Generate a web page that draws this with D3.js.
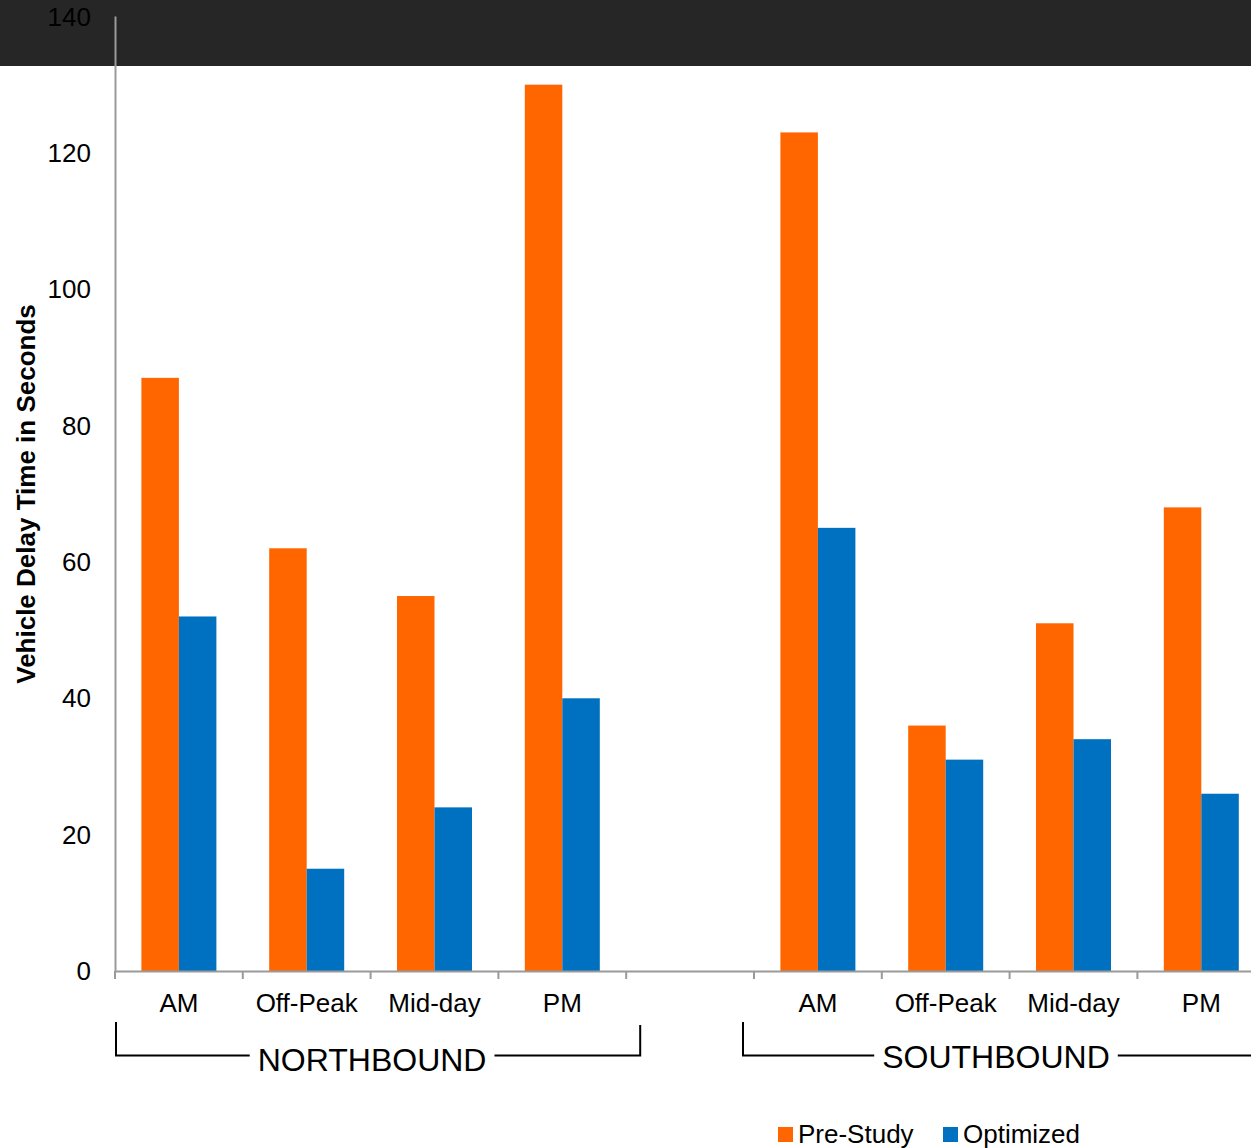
<!DOCTYPE html>
<html><head><meta charset="utf-8">
<script src="https://cdn.jsdelivr.net/npm/d3@7/dist/d3.min.js"></script>
<style>
html,body{margin:0;padding:0;background:#fff;}
svg{display:block;font-family:"Liberation Sans",Arial,sans-serif;}
</style></head>
<body>
<svg id="chart" width="1251" height="1148"></svg>
<script>
const categories = ["AM","Off-Peak","Mid-day","PM"];
const directions = ["NORTHBOUND","SOUTHBOUND"];
const seriesNames = ["Pre-Study","Optimized"];
const preStudy = [87,62,55,130, 123,36,51,68];
const optimized = [52,15,24,40, 65,31,34,26];
const yTicks = [0,20,40,60,80,100,120,140];
const colors = ["#FF6600","#0070C0"];

const svg = d3.select("#chart");
const W = 1251, H = 1148;

svg.append("rect").attr("x",0).attr("y",0).attr("width",W).attr("height",66).attr("fill","#262626");

// slots: NB 0-3, gap 4, SB 5-8, extra 9
const slotIds = d3.range(10);
const x = d3.scaleBand().domain(slotIds).range([115, 115 + 10*127.8]).padding(0);
const inner = d3.scaleBand().domain(seriesNames).range([0, x.bandwidth()]).paddingInner(0).paddingOuter(0.704);
const y = d3.scaleLinear().domain([0,140]).range([971, 16.5]);

const rows = [];
directions.forEach((dir, di) => {
  categories.forEach((cat, ci) => {
    const idx = di*4 + ci;
    rows.push({slot: di*5 + ci, cat, dir, values:[preStudy[idx], optimized[idx]]});
  });
});

// bars
const g = svg.append("g");
rows.forEach(r => {
  seriesNames.forEach((s, si) => {
    g.append("rect")
      .attr("x", x(r.slot) + inner(s))
      .attr("width", inner.bandwidth())
      .attr("y", y(r.values[si]))
      .attr("height", y(0) - y(r.values[si]))
      .attr("fill", colors[si]);
  });
});

const axisColor = "#9a9a9a";
// y axis
svg.append("line").attr("x1",115.5).attr("x2",115.5).attr("y1",y(140)).attr("y2",y(0)).attr("stroke",axisColor).attr("stroke-width",2);
svg.selectAll(".ytl").data(yTicks).enter().append("text")
  .attr("x",91).attr("y",d=>y(d)).attr("dy","0.35em")
  .attr("text-anchor","end").attr("font-size",26).attr("fill","#000").text(d=>d);

// x axis
svg.append("line").attr("x1",115).attr("x2",W).attr("y1",971.5).attr("y2",971.5).attr("stroke",axisColor).attr("stroke-width",2);
slotIds.forEach(s => {
  svg.append("line").attr("x1",x(s)).attr("x2",x(s)).attr("y1",971).attr("y2",979).attr("stroke",axisColor).attr("stroke-width",2);
});
svg.selectAll(".xtl").data(rows).enter().append("text")
  .attr("x", d => x(d.slot) + x.bandwidth()/2)
  .attr("y", 1012).attr("text-anchor","middle").attr("font-size",26).attr("fill","#000")
  .text(d => d.cat);

// group brackets
const brackets = [
  {name: directions[0], left: x(0)+1, right: x(4)+14, top: 1022, yLine: 1055.5, rightTop: 1025, ty: 1071},
  {name: directions[1], left: x(5)-11, right: W+20, top: 1022, yLine: 1055.5, rightTop: null, ty: 1068}
];
brackets.forEach(b => {
  const cx = (b.name === directions[0]) ? (b.left + b.right)/2 - 6 : 996;
  const t = svg.append("text").attr("x",cx).attr("y",b.ty).attr("text-anchor","middle")
    .attr("font-size",32).attr("fill","#000").text(b.name);
  const bb = t.node().getBBox();
  const p = [[b.left, b.top],[b.left, b.yLine],[bb.x - 8, b.yLine]];
  svg.append("path").attr("d", d3.line()(p)).attr("fill","none").attr("stroke","#000").attr("stroke-width",2);
  const p2 = [[bb.x + bb.width + 8, b.yLine],[b.right, b.yLine]];
  if (b.rightTop !== null) p2.push([b.right, b.rightTop]);
  svg.append("path").attr("d", d3.line()(p2)).attr("fill","none").attr("stroke","#000").attr("stroke-width",2);
});

// y title
svg.append("text").attr("transform","translate(35,494) rotate(-90)")
  .attr("text-anchor","middle").attr("font-size",26).attr("font-weight","bold").attr("fill","#000")
  .text("Vehicle Delay Time in Seconds");

// legend
const legendX = [778, 943];
seriesNames.forEach((s, i) => {
  svg.append("rect").attr("x",legendX[i]).attr("y",1127).attr("width",15).attr("height",15).attr("fill",colors[i]);
  svg.append("text").attr("x",legendX[i]+20).attr("y",1143).attr("font-size",26).attr("fill","#000").text(s);
});
</script>
</body></html>
